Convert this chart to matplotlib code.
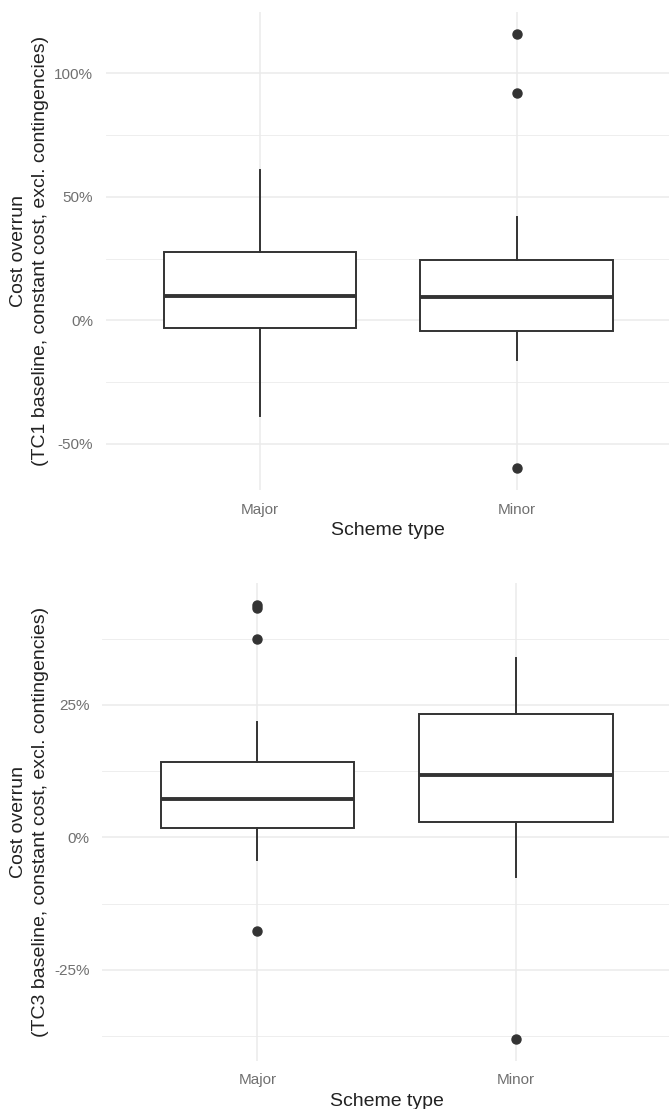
import matplotlib
matplotlib.use("Agg")
import matplotlib.pyplot as plt
from matplotlib.ticker import FuncFormatter, FixedLocator

plt.rcParams['font.family'] = ['Liberation Sans', 'DejaVu Sans']

categories = ["Major", "Minor"]

# Panel 1 (TC1): per category [whislo, q1, med, q3, whishi]
tc1_stats = [[-38.5, -3.1, 10.0, 27.7, 60.8],
             [-16.0, -4.2, 9.6, 24.3, 42.0]]
tc1_outliers = [[], [115.9, 91.9, -59.9]]
tc1_major_ticks = [-50, 0, 50, 100]
tc1_minor_ticks = [-25, 25, 75]

# Panel 2 (TC3)
tc3_stats = [[-4.3, 1.8, 7.2, 14.3, 21.7],
             [-7.5, 2.9, 11.7, 23.2, 33.9]]
tc3_outliers = [[43.9, 43.2, 37.4, -17.7], [-38.1]]
tc3_major_ticks = [-25, 0, 25]
tc3_minor_ticks = [-37.5, -12.5, 12.5, 37.5]

ylabels = ["Cost overrun\n(TC1 baseline, constant cost, excl. contingencies)",
           "Cost overrun\n(TC3 baseline, constant cost, excl. contingencies)"]
xlabel = "Scheme type"

fig = plt.figure(figsize=(6.69, 11.09), dpi=100)
axes = [fig.add_axes([0.158, 0.558, 0.845, 0.431]),
        fig.add_axes([0.153, 0.0433, 0.850, 0.431])]

panels = [(tc1_stats, tc1_outliers, tc1_major_ticks, tc1_minor_ticks),
          (tc3_stats, tc3_outliers, tc3_major_ticks, tc3_minor_ticks)]

edge = '#333333'
for ax, (stats, outl, mticks, nticks), ylab in zip(axes, panels, ylabels):
    bxp_stats = []
    allv = []
    for cat, s, o in zip(categories, stats, outl):
        bxp_stats.append(dict(label=cat, whislo=s[0], q1=s[1], med=s[2],
                              q3=s[3], whishi=s[4], fliers=o))
        allv += s + o
    lo, hi = min(allv), max(allv)
    pad = (hi - lo) * 0.05
    ax.set_ylim(lo - pad, hi + pad)
    ax.set_xlim(0.4, 2.6)

    ax.bxp(bxp_stats, positions=[1, 2], widths=0.75, patch_artist=True,
           showcaps=False, zorder=3,
           boxprops=dict(facecolor='white', edgecolor=edge, linewidth=1.4),
           whiskerprops=dict(color=edge, linewidth=1.4),
           medianprops=dict(color=edge, linewidth=2.8, solid_capstyle='butt'),
           flierprops=dict(marker='o', markerfacecolor=edge, markeredgecolor=edge,
                           markersize=6.5, linestyle='none'))

    ax.yaxis.set_major_locator(FixedLocator(mticks))
    ax.yaxis.set_minor_locator(FixedLocator(nticks))
    ax.yaxis.set_major_formatter(FuncFormatter(lambda v, p: f"{v:.0f}%"))
    ax.set_xticks([1, 2])
    ax.set_xticklabels(categories)

    ax.grid(True, which='major', axis='both', color='#EBEBEB', linewidth=1.1, zorder=0)
    ax.grid(True, which='minor', axis='y', color='#EBEBEB', linewidth=0.6, zorder=0)
    ax.set_axisbelow(True)
    for sp in ax.spines.values():
        sp.set_visible(False)
    ax.tick_params(axis='both', which='both', length=0, labelsize=11, labelcolor='#707070')
    ax.tick_params(axis='y', pad=9)
    ax.tick_params(axis='x', pad=9)
    ax.set_xlabel(xlabel, fontsize=14, color='#222222', labelpad=4)
    ax.set_ylabel(ylab, fontsize=14, color='#222222', labelpad=4, linespacing=1.35)

fig.savefig("out.png", dpi=100, facecolor='white')
